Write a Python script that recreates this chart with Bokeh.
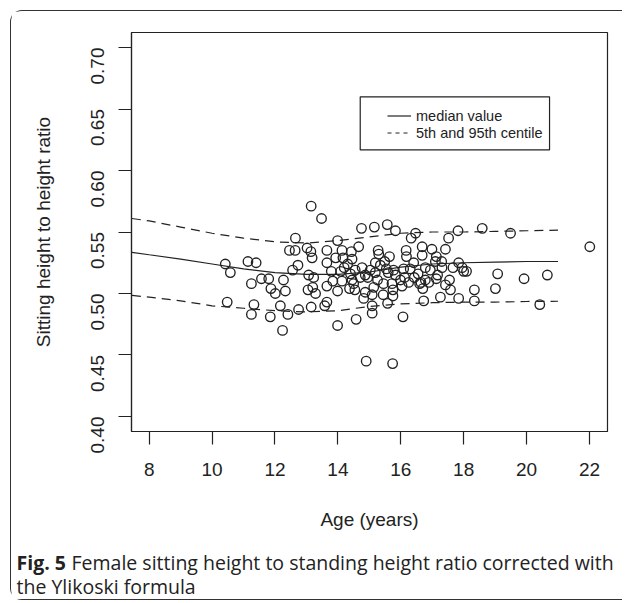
import math
from bokeh.plotting import figure
from bokeh.layouts import column
from bokeh.models import (FixedTicker, Legend, LegendItem, BoxAnnotation, Label, Range1d)
from bokeh.embed import file_html
from bokeh.resources import INLINE

# ---------------- data ----------------
age = [10.42, 10.58, 11.14, 11.40, 11.25, 10.48, 11.33, 11.25, 11.57, 11.80, 11.87, 11.85,
       13.15, 13.48, 14.75, 15.16, 15.57, 15.83, 16.47, 16.33, 12.65, 13.99, 14.66, 12.46,
       12.64, 13.02, 13.14, 13.18, 13.65, 14.13, 14.43, 14.16, 14.45, 15.28, 15.30, 15.64,
       16.17, 16.18, 12.73, 12.56, 13.65, 13.93, 13.07, 13.79, 14.09, 14.31, 14.77, 14.71,
       15.03, 15.19, 15.49, 15.54, 15.77, 16.09, 16.41, 12.27, 12.01, 12.33, 13.23, 13.84,
       14.13, 14.45, 14.95, 15.26, 15.99, 16.12, 16.43, 16.60, 13.05, 13.20, 13.29, 13.65,
       13.99, 14.37, 14.54, 14.82, 15.09, 15.44, 15.75, 15.75, 16.04, 12.17, 12.41, 12.75,
       13.15, 13.58, 13.65, 15.09, 15.09, 15.58, 12.24, 13.99, 14.58, 16.07, 14.90, 15.74,
       17.82, 18.59, 19.49, 22.01, 17.52, 17.42, 16.99, 16.68, 16.68, 17.13, 17.10, 16.78,
       17.31, 17.66, 17.84, 17.95, 18.00, 18.09, 17.17, 17.55, 17.13, 16.78, 16.64, 17.42,
       17.58, 18.34, 19.01, 19.08, 19.92, 20.66, 16.73, 17.26, 17.84, 18.34, 20.42,
       15.60, 16.30, 16.94, 14.40, 14.55, 14.87, 15.19, 15.83, 15.14, 15.45, 15.72, 16.25,
       16.89, 14.87, 14.50, 15.35, 16.55, 17.30, 14.20, 16.70]
ratio = [0.524, 0.517, 0.526, 0.525, 0.508, 0.493, 0.491, 0.483, 0.512, 0.512, 0.504, 0.481,
         0.571, 0.561, 0.553, 0.554, 0.556, 0.551, 0.549, 0.545, 0.545, 0.543, 0.538, 0.535,
         0.535, 0.537, 0.534, 0.529, 0.535, 0.535, 0.534, 0.529, 0.528, 0.535, 0.532, 0.530,
         0.535, 0.530, 0.523, 0.519, 0.525, 0.529, 0.515, 0.518, 0.518, 0.524, 0.521, 0.513,
         0.519, 0.525, 0.526, 0.520, 0.519, 0.520, 0.525, 0.511, 0.500, 0.502, 0.513, 0.510,
         0.510, 0.511, 0.513, 0.511, 0.511, 0.513, 0.513, 0.508, 0.503, 0.505, 0.500, 0.506,
         0.502, 0.504, 0.503, 0.496, 0.499, 0.499, 0.503, 0.498, 0.506, 0.490, 0.483, 0.487,
         0.489, 0.490, 0.493, 0.490, 0.484, 0.492, 0.470, 0.474, 0.479, 0.481, 0.445, 0.443,
         0.551, 0.553, 0.549, 0.538, 0.545, 0.536, 0.536, 0.538, 0.531, 0.530, 0.526, 0.521,
         0.521, 0.521, 0.525, 0.521, 0.518, 0.518, 0.515, 0.511, 0.512, 0.511, 0.509, 0.507,
         0.503, 0.503, 0.504, 0.516, 0.512, 0.515, 0.494, 0.497, 0.496, 0.494, 0.491,
         0.517, 0.520, 0.519, 0.516, 0.519, 0.515, 0.517, 0.515, 0.505, 0.508, 0.508, 0.509,
         0.509, 0.501, 0.508, 0.523, 0.516, 0.526, 0.521, 0.504]

curve_age = [7.45, 8, 9, 10, 11, 12, 13, 14, 15, 16, 17, 18, 19, 20, 21]
median_curve = [0.5335, 0.5315, 0.528, 0.524, 0.520, 0.517, 0.5155, 0.5155, 0.5175, 0.5215,
                0.524, 0.525, 0.5255, 0.526, 0.526]
p95_curve = [0.561, 0.559, 0.554, 0.549, 0.545, 0.542, 0.541, 0.543, 0.546, 0.549, 0.550,
             0.550, 0.5505, 0.551, 0.5515]
p5_curve = [0.4985, 0.497, 0.494, 0.490, 0.488, 0.486, 0.485, 0.486, 0.4895, 0.4915, 0.4925,
            0.493, 0.493, 0.4935, 0.4937]

x_ticks = [8, 10, 12, 14, 16, 18, 20, 22]
y_ticks = [0.40, 0.45, 0.50, 0.55, 0.60, 0.65, 0.70]
y_tick_labels = ["0.40", "0.45", "0.50", "0.55", "0.60", "0.65", "0.70"]

x_title = "Age (years)"
y_title = "Sitting height to height ratio"
legend_labels = ["median value", "5th and 95th centile"]
caption_bold = "Fig. 5"
caption_line1 = "Female sitting height to standing height ratio corrected with"
caption_line2 = "the Ylikoski formula"

# ---------------- style / layout constants ----------------
INK = "#222222"
FONT = "Liberation Sans"
CAP_FONT = "Open Sans"
X_LO, X_HI = 7.437, 22.573
Y_LO, Y_HI = 0.3878, 0.7122

p = figure(width=611, height=535, x_range=Range1d(X_LO, X_HI),
           y_range=Range1d(Y_LO, Y_HI), output_backend="svg",
           toolbar_location=None, min_border_left=120, min_border_right=15,
           min_border_top=21, min_border_bottom=115)
p.frame_align = False
p.background_fill_color = "white"
p.border_fill_color = "white"
p.grid.visible = False
p.outline_line_color = INK
p.outline_line_width = 1.2

for ax in (p.xaxis[0], p.yaxis[0]):
    ax.axis_line_color = INK
    ax.axis_line_width = 1.2
    ax.major_tick_line_color = INK
    ax.major_tick_line_width = 1.2
    ax.major_tick_out = 13
    ax.major_tick_in = 0
    ax.minor_tick_line_color = None
    ax.major_label_text_font = FONT
    ax.major_label_text_font_size = "19px"
    ax.major_label_text_color = INK
    ax.axis_label_text_font = FONT
    ax.axis_label_text_font_size = "19px"
    ax.axis_label_text_font_style = "normal"
    ax.axis_label_text_color = INK

p.xaxis.ticker = FixedTicker(ticks=x_ticks)
p.xaxis.axis_label = x_title
p.xaxis.major_label_standoff = 18
p.xaxis.axis_label_standoff = 30

p.yaxis.ticker = FixedTicker(ticks=y_ticks)
p.yaxis.major_label_overrides = {t: s for t, s in zip(y_ticks, y_tick_labels)}
p.yaxis.major_label_orientation = math.pi / 2
p.yaxis.axis_label = y_title
p.yaxis.major_label_standoff = 21
p.yaxis.axis_label_standoff = 28

# curves
p.line(curve_age, median_curve, line_color=INK, line_width=1.2)
p.line(curve_age, p95_curve, line_color=INK, line_width=1.2, line_dash="9 6")
p.line(curve_age, p5_curve, line_color=INK, line_width=1.2, line_dash="9 6")

# points
p.scatter(age, ratio, marker="circle", size=9.5, fill_color=None,
          line_color=INK, line_width=1.35)

# legend (hidden twins of the curves carry the legend glyph styles)
leg_med = p.line(curve_age, median_curve, line_color=INK, line_width=1.2, visible=False)
leg_ci = p.line(curve_age, p5_curve, line_color=INK, line_width=1.2, line_dash="4 4",
                visible=False)
legend = Legend(items=[LegendItem(label=legend_labels[0], renderers=[leg_med]),
                       LegendItem(label=legend_labels[1], renderers=[leg_ci])],
                location=(256, 290), padding=0, margin=0, spacing=0,
                glyph_width=24, glyph_height=17, label_height=17, label_standoff=5,
                label_text_font=FONT, label_text_font_size="14.5px",
                label_text_color=INK, border_line_alpha=0, background_fill_alpha=0,
                inactive_fill_alpha=0)
p.add_layout(legend)
p.add_layout(BoxAnnotation(left=14.71, right=20.73, top=0.6599, bottom=0.6167,
                           fill_alpha=0, line_color=INK, line_alpha=1, line_width=1.2))

# caption strip
cap = figure(width=611, height=53, output_backend="svg", toolbar_location=None,
             x_axis_type=None, y_axis_type=None, min_border=0,
             min_border_left=0, min_border_right=0, min_border_top=0, min_border_bottom=0,
             x_range=Range1d(0, 1), y_range=Range1d(0, 1))
cap.frame_align = False
cap.grid.visible = False
cap.outline_line_color = None
cap.background_fill_color = "white"
cap.border_fill_color = "white"
cap.add_layout(Label(x=5, y=37, x_units="screen", y_units="screen", text=caption_bold,
                     text_font=CAP_FONT, text_font_style="bold", text_font_size="19.5px",
                     text_color=INK, text_baseline="middle"))
cap.add_layout(Label(x=60, y=37, x_units="screen", y_units="screen", text=caption_line1,
                     text_font=CAP_FONT, text_font_size="19.5px", text_color=INK,
                     text_baseline="middle"))
cap.add_layout(Label(x=5, y=13, x_units="screen", y_units="screen", text=caption_line2,
                     text_font=CAP_FONT, text_font_size="19.5px", text_color=INK,
                     text_baseline="middle"))

page = column(p, cap, spacing=0,
              styles={"margin-left": "10px", "margin-top": "10px",
                      "border-left": "1.3px solid #333333",
                      "border-top": "1.3px solid #333333",
                      "border-bottom": "1.3px solid #333333",
                      "border-radius": "12px 0 0 12px"})

open("out.html", "w").write(file_html(page, INLINE))
